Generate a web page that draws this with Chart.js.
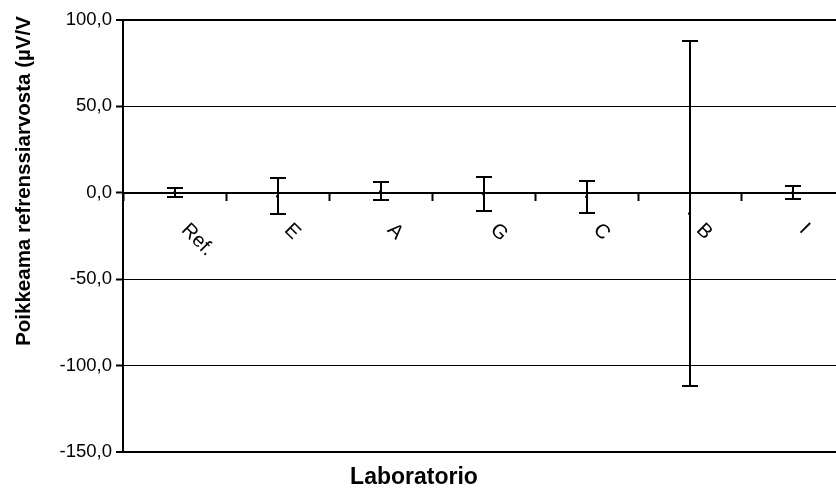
<!DOCTYPE html>
<html>
<head>
<meta charset="utf-8">
<script src="https://cdn.jsdelivr.net/npm/chart.js@4.4.1/dist/chart.umd.min.js"></script>
<style>
html,body{margin:0;padding:0;background:#fff;overflow:hidden;}
#wrap{width:836px;height:490px;overflow:hidden;}
</style>
</head>
<body>
<div id="wrap"><canvas id="c" width="848" height="490"></canvas></div>
<script>
// Data
const categories = ["Ref.", "E", "A", "G", "C", "B", "I"];
const deviation = [0.2, -2.0, 0.8, -0.7, -2.3, -12.0, 0.1];
const uncertainty = [2.7, 10.3, 5.2, 10.1, 9.4, 100.0, 3.7];
const yTicks = [100, 50, 0, -50, -100, -150];
const yTitle = "Poikkeama refrenssiarvosta (µV/V";
const xTitle = "Laboratorio";

const FONT = "'Liberation Sans', Arial, sans-serif";

const errorBars = {
  id: 'errorBars',
  afterDatasetsDraw(chart) {
    const ctx = chart.ctx;
    const xs = chart.scales.x, ys = chart.scales.y;
    ctx.save();
    ctx.strokeStyle = '#000';
    ctx.lineWidth = 2;
    deviation.forEach((v, i) => {
      const x = Math.round(xs.getPixelForValue(i)) ;
      const yHi = Math.round(ys.getPixelForValue(v + uncertainty[i]));
      const yLo = Math.round(ys.getPixelForValue(v - uncertainty[i]));
      ctx.beginPath();
      ctx.moveTo(x, yHi); ctx.lineTo(x, yLo);
      ctx.moveTo(x - 8, yHi); ctx.lineTo(x + 8, yHi);
      ctx.moveTo(x - 8, yLo); ctx.lineTo(x + 8, yLo);
      ctx.stroke();
    });
    ctx.restore();
  }
};

const customText = {
  id: 'customText',
  afterDraw(chart) {
    const ctx = chart.ctx;
    const xs = chart.scales.x, ys = chart.scales.y;
    const y0 = ys.getPixelForValue(0);
    ctx.save();
    ctx.fillStyle = '#000';
    ctx.font = "20px " + FONT;
    ctx.textAlign = 'left';
    ctx.textBaseline = 'alphabetic';
    categories.forEach((lab, i) => {
      const x = xs.getPixelForValue(i);
      ctx.save();
      ctx.translate(x + 6, y0 + 38);
      ctx.rotate(Math.PI / 4);
      ctx.fillText(lab, 0, 0);
      ctx.restore();
    });
    ctx.font = "bold 23px " + FONT;
    ctx.textAlign = 'center';
    ctx.fillText(xTitle, 414, 484);
    ctx.font = "bold 20.5px " + FONT;
    ctx.save();
    ctx.translate(30, 181);
    ctx.rotate(-Math.PI / 2);
    ctx.fillText(yTitle, 0, 0);
    ctx.restore();
    ctx.restore();
  }
};

new Chart(document.getElementById('c'), {
  type: 'line',
  data: {
    labels: categories,
    datasets: [{
      data: deviation,
      showLine: false,
      pointRadius: 1.5,
      pointBackgroundColor: '#000',
      pointBorderColor: '#000',
      pointBorderWidth: 0
    }]
  },
  options: {
    responsive: false,
    animation: false,
    devicePixelRatio: 1,
    layout: { padding: { top: 20, bottom: 38, left: 0, right: 1 } },
    plugins: { legend: { display: false }, tooltip: { enabled: false } },
    scales: {
      y: {
        min: -150, max: 100,
        afterBuildTicks(scale) { scale.ticks = yTicks.map(v => ({ value: v })); },
        afterFit(scale) { scale.width = 123; },
        ticks: {
          color: '#000',
          font: { family: FONT, size: 18.5 },
          padding: 4,
          callback: v => v.toFixed(1).replace('.', ',')
        },
        grid: {
          color: '#000',
          lineWidth: c => (c.tick && (c.tick.value === 100 || c.tick.value === -150)) ? 2 : 1,
          tickLength: 7,
          tickWidth: 2,
          tickColor: '#000'
        },
        border: { display: true, color: '#000', width: 2 }
      },
      x: {
        type: 'category',
        position: { y: 0 },
        offset: true,
        ticks: { display: false },
        grid: {
          offset: true,
          drawOnChartArea: false,
          drawTicks: true,
          tickLength: 7,
          tickWidth: 2,
          tickColor: '#000',
          color: '#000'
        },
        border: { display: true, color: '#000', width: 2 }
      }
    }
  },
  plugins: [errorBars, customText]
});
</script>
</body>
</html>
